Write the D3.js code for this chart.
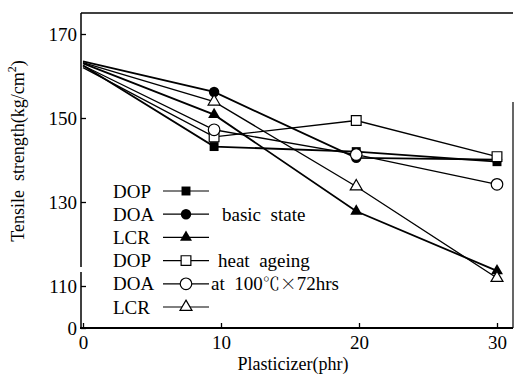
<!DOCTYPE html>
<html>
<head>
<meta charset="utf-8">
<script src="https://cdn.jsdelivr.net/npm/d3@7"></script>
<style>
  body { margin: 0; background: #fff; }
</style>
</head>
<body>
<div id="wrapper"></div>
<script>
width = 514
height = 376
const fontFam = "'Liberation Serif', 'Noto Serif CJK JP', serif"
const cjkFam = "'Noto Serif CJK JP', serif"

// data
const phr = [0, 9.5, 19.8, 30]
const xTicks = [0, 10, 20, 30]
const yTicks = [100, 110, 130, 150, 170]
const names = ["DOP", "DOA", "LCR", "DOP", "DOA", "LCR"]
const shapes = ["square", "circle", "triangle", "square", "circle", "triangle"]
const filled = [true, true, true, false, false, false]
const dopBasic = [162.5, 143.2, 142.0, 139.6]
const doaBasic = [163.5, 156.2, 140.5, 140.1]
const lcrBasic = [163.0, 150.8, 127.8, 113.6]
const dopAged = [162.0, 145.5, 149.4, 140.8]
const doaAged = [162.5, 147.2, 141.3, 134.2]
const lcrAged = [163.2, 153.9, 133.7, 111.9]
const seriesValues = [dopBasic, doaBasic, lcrBasic, dopAged, doaAged, lcrAged]

const svg = d3.select("#wrapper").append("svg")
    .attr("width", width)
    .attr("height", height)

x = d3.scaleLinear().domain([0, 30]).range([83, 497])
y = d3.scaleLinear().domain([100, 175]).range([328, 13])

symbolType = { square: d3.symbolSquare, circle: d3.symbolCircle, triangle: d3.symbolTriangle }
symbolSize = { square: 80, circle: 85, triangle: 62 }
openSize = { square: 95, circle: 105, triangle: 62 }

function markerPath(i) {
    const s = shapes[i]
    return d3.symbol().type(symbolType[s]).size(filled[i] ? symbolSize[s] : openSize[s])()
}

function addText(sel, size) {
    return sel.append("text")
        .style("font-family", fontFam)
        .style("font-size", size + "px")
        .attr("fill", "#000")
}

// frame
svg.append("line").attr("x1", 81).attr("x2", 513).attr("y1", 13).attr("y2", 13)
    .attr("stroke", "#000").attr("stroke-width", 1.4)
svg.append("line").attr("x1", 513).attr("x2", 513).attr("y1", 102).attr("y2", 328)
    .attr("stroke", "#000").attr("stroke-width", 1.2)
// left axis with a small break above 110
svg.append("line").attr("x1", 81).attr("x2", 81).attr("y1", 13).attr("y2", 267)
    .attr("stroke", "#000").attr("stroke-width", 1.5)
svg.append("line").attr("x1", 81).attr("x2", 81).attr("y1", 272).attr("y2", 328)
    .attr("stroke", "#000").attr("stroke-width", 1.5)
svg.append("line").attr("x1", 80).attr("x2", 513).attr("y1", 328).attr("y2", 328)
    .attr("stroke", "#000").attr("stroke-width", 2)

const yAxis = svg.append("g")
    .attr("transform", "translate(81,0)")
    .call(d3.axisLeft(y).tickValues(yTicks).tickSize(-5).tickSizeOuter(0).tickPadding(4)
        .tickFormat(d => d === 100 ? "0" : d))
yAxis.select(".domain").remove()
yAxis.selectAll("line").attr("stroke-width", 1.3)
yAxis.selectAll("text").style("font-family", fontFam).style("font-size", "19px")

const xAxis = svg.append("g")
    .attr("transform", "translate(0,328)")
    .call(d3.axisBottom(x).tickValues(xTicks).tickSize(-5).tickSizeOuter(0).tickPadding(8))
xAxis.select(".domain").remove()
xAxis.selectAll("line").attr("stroke-width", 1.3)
xAxis.selectAll("text").style("font-family", fontFam).style("font-size", "19px")

// axis titles
addText(svg, 18)
    .attr("transform", "translate(20,151) rotate(-90)")
    .attr("text-anchor", "middle")
    .attr("dominant-baseline", "middle")
    .attr("xml:space", "preserve")
    .text("Tensile  strength(kg/cm")
    .call(t => t.append("tspan").attr("dy", -7).style("font-size", "12px").text("2"))
    .call(t => t.append("tspan").attr("dy", 7).text(")"))

addText(svg, 18)
    .attr("x", 293).attr("y", 370)
    .attr("text-anchor", "middle")
    .text("Plasticizer(phr)")

// series lines and markers
const line = d3.line().x((d, i) => x(phr[i])).y(d => y(d))

const series = svg.append("g")
    .selectAll("g")
    .data(seriesValues)
    .join("g")

series.append("path")
    .attr("d", d => line(d))
    .attr("fill", "none")
    .attr("stroke", "#000")
    .attr("stroke-width", (d, i) => filled[i] ? 1.8 : 1.3)

series.each(function (vals, i) {
    d3.select(this).selectAll(".mk")
        .data(vals.slice(1))
        .join("path")
        .attr("class", "mk")
        .attr("transform", (d, j) => `translate(${x(phr[j + 1])},${y(d)})`)
        .attr("d", markerPath(i))
        .attr("fill", filled[i] ? "#000" : "#fff")
        .attr("stroke", "#000")
        .attr("stroke-width", filled[i] ? 0 : 1.2)
})

// legend
const legendY = d3.scaleLinear().domain([0, 5]).range([191, 307])

const legend = svg.append("g")
    .selectAll("g")
    .data(names)
    .join("g")
    .attr("transform", (d, i) => `translate(0,${legendY(i)})`)

addText(legend, 19)
    .attr("x", 113)
    .attr("dy", "0.35em")
    .text(d => d)

legend.append("line")
    .attr("x1", 163).attr("x2", 209)
    .attr("stroke", "#000")
    .attr("stroke-width", 1.2)

legend.append("path")
    .attr("transform", "translate(186,0)")
    .attr("d", (d, i) => markerPath(i))
    .attr("fill", (d, i) => filled[i] ? "#000" : "#fff")
    .attr("stroke", "#000")
    .attr("stroke-width", (d, i) => filled[i] ? 0 : 1.2)

addText(svg, 19).attr("x", 222).attr("y", legendY(1)).attr("dy", "0.35em")
    .attr("xml:space", "preserve").text("basic  state")
addText(svg, 19).attr("x", 218).attr("y", legendY(3)).attr("dy", "0.35em")
    .attr("xml:space", "preserve").text("heat  ageing")
addText(svg, 19).attr("x", 211).attr("y", legendY(4)).attr("dy", "0.35em")
    .attr("xml:space", "preserve").text("at  100")
    .call(t => t.append("tspan").style("font-family", cjkFam).style("font-size", "17px").text("℃×"))
    .call(t => t.append("tspan").text("72hrs"))
</script>
</body>
</html>
